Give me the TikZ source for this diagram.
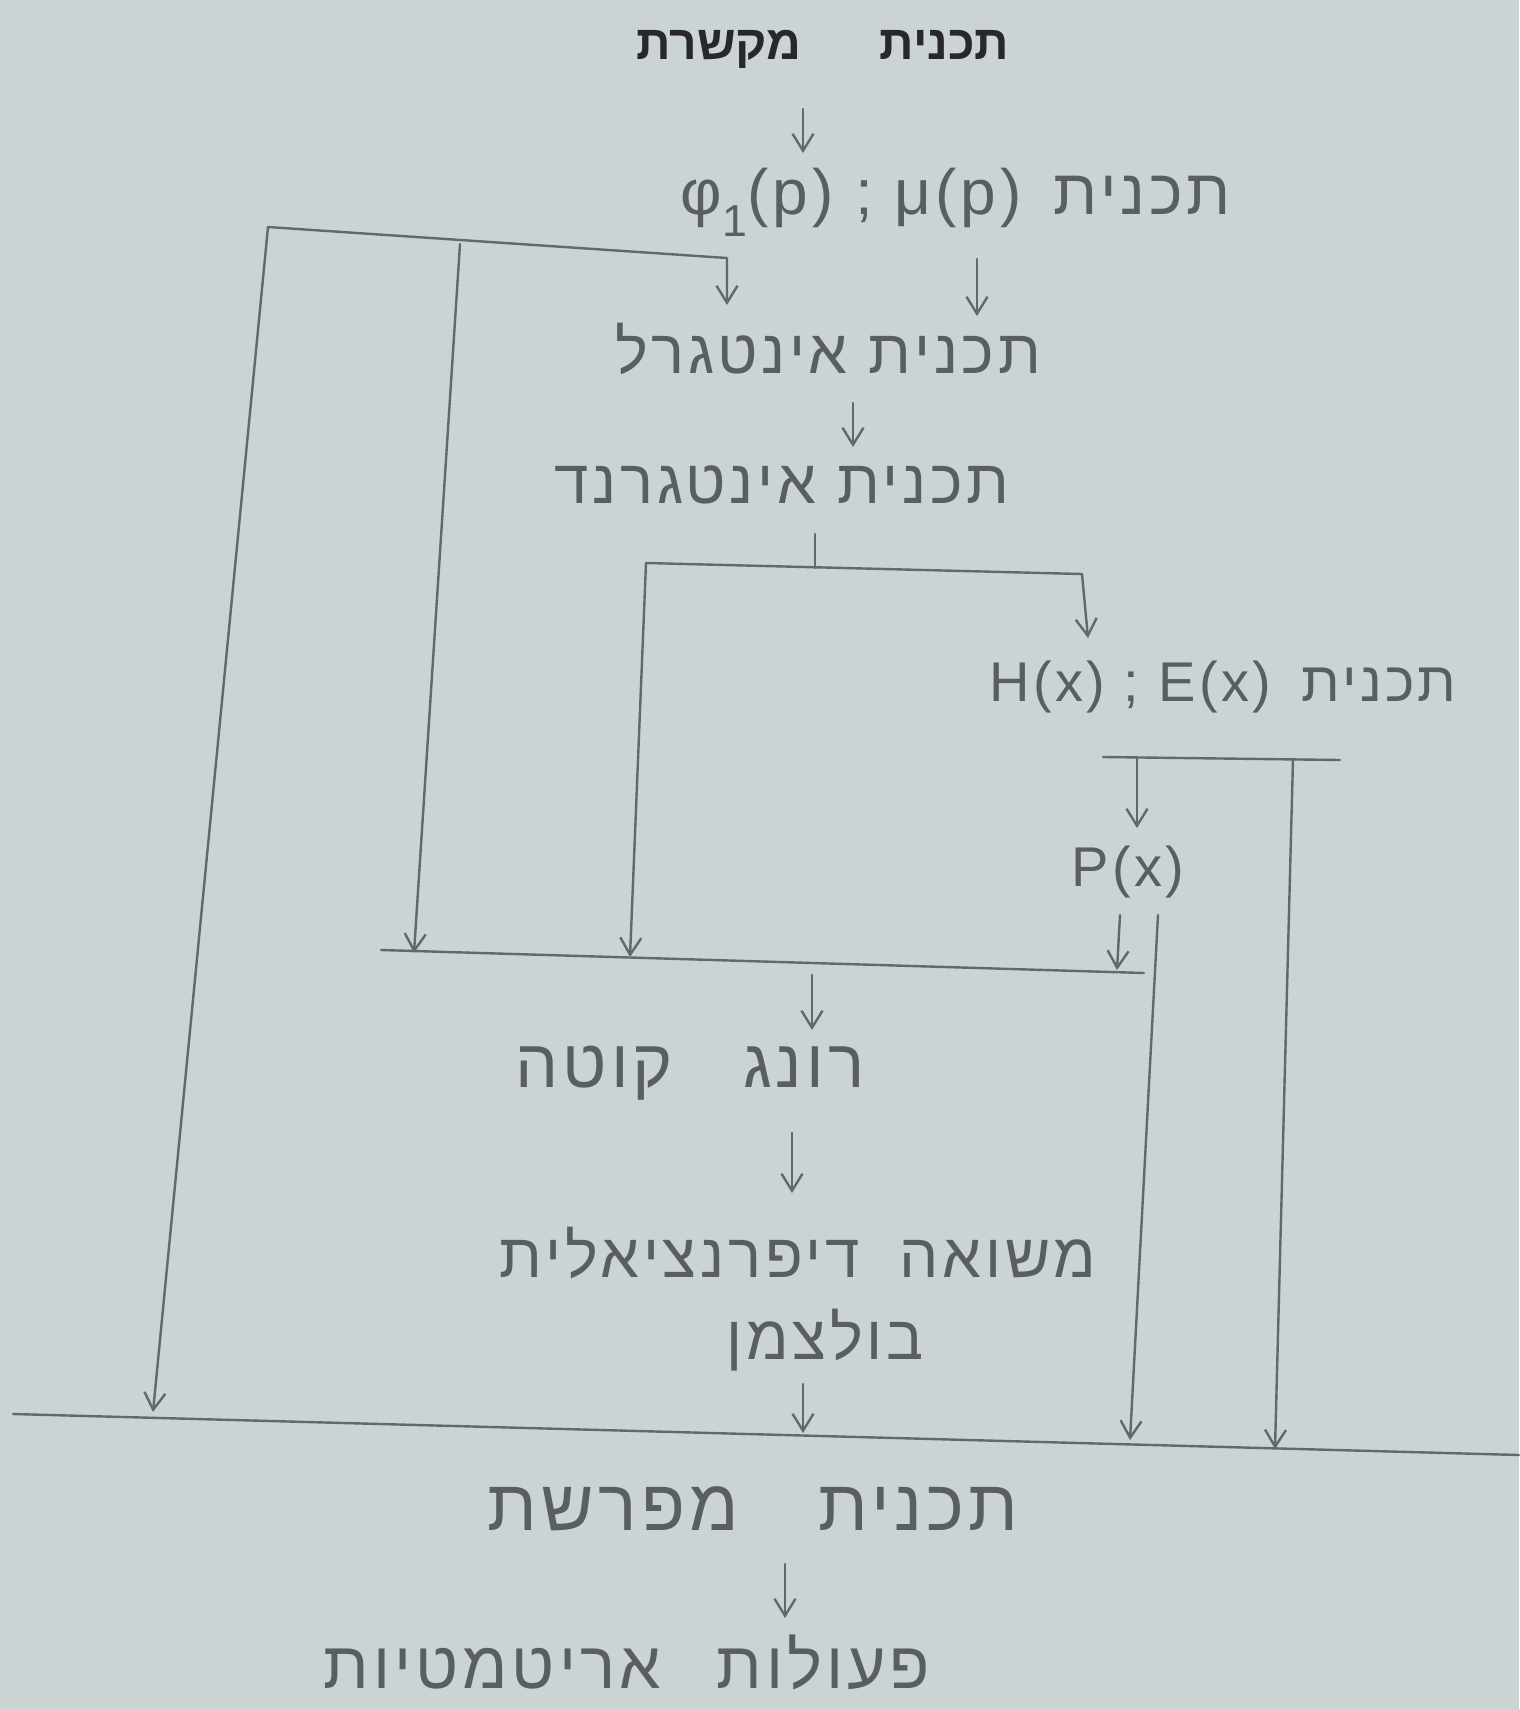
\documentclass[tikz,border=0pt]{standalone}
\usepackage{fontspec}
\setmainfont{Liberation Sans}
\newfontfamily\heb[Script=Hebrew,LetterSpace=6]{Liberation Sans}
\newfontfamily\hebprint[Script=Hebrew]{Liberation Sans}
\TeXXeTstate=1
\usetikzlibrary{arrows.meta}
\definecolor{paper}{RGB}{204,211,213}
\definecolor{pencil}{RGB}{98,104,110}
\definecolor{ink}{RGB}{40,40,44}
\tikzset{
  hw/.style={inner sep=0pt, text=pencil!90!black, font=\heb\fontsize{62}{70}\selectfont},
  hwbig/.style={inner sep=0pt, text=pencil!90!black, font=\heb\fontsize{68}{76}\selectfont},
  hwsmall/.style={inner sep=0pt, text=pencil!90!black, font=\heb\fontsize{56}{64}\selectfont},
  printed/.style={inner sep=0pt, text=ink, font=\hebprint\bfseries\fontsize{48}{54}\selectfont},
  ln/.style={draw=pencil, line width=2.4pt, line cap=round, line join=round},
  arr/.style={ln, -{Straight Barb[length=17pt,width=21pt]}},
}
\begin{document}
\begin{tikzpicture}[x=1pt,y=-1pt]
\fill[paper] (0,0) rectangle (1519,1709);
\useasboundingbox (0,0) rectangle (1519,1709);

% text nodes
\node[printed] (t0) at (823,49) {\beginR תכנית\hspace{78pt}מקשרת\endR};
\node[hw, font=\heb\fontsize{64}{72}\selectfont] (n1) at (956,202) {\beginR תכנית\hspace{32pt}\beginL φ\textsubscript{1}(p) ; μ(p)\endL\endR};
\node[hw] (n2) at (828,349) {\beginR תכנית אינטגרל\endR};
\node[hw] (n3) at (782,485) {\beginR תכנית אינטגרנד\endR};
\node[hwsmall] (n4) at (1223,687) {\beginR תכנית\hspace{30pt}\beginL H(x) ; E(x)\endL\endR};
\node[hwsmall] (n5) at (1128,872) {P(x)};
\node[hwbig] (n6) at (690,1073) {\beginR רונג\hspace{70pt}קוטה\endR};
\node[hw] (n7a) at (798,1253) {\beginR משואה\hspace{40pt}דיפרנציאלית\endR};
\node[hw] (n7b) at (825,1340) {\beginR בולצמן\endR};
\node[hwbig, font=\heb\fontsize{72}{80}\selectfont] (n8) at (753,1509) {\beginR תכנית\hspace{80pt}מפרשת\endR};
\node[hw, font=\heb\fontsize{66}{74}\selectfont] (n9) at (627,1662) {\beginR פעולות\hspace{56pt}אריטמטיות\endR};

% coordinates
\coordinate (a0) at (803,109);  \coordinate (a0e) at (803,153);
\coordinate (b1) at (268,227);  \coordinate (b2) at (727,258); \coordinate (b2e) at (727,305);
\coordinate (v2s) at (460,244); \coordinate (v2e) at (414,953);
\coordinate (v1e) at (153,1412);
\coordinate (m1) at (977,259);  \coordinate (m1e) at (977,316);
\coordinate (m2) at (853,403);  \coordinate (m2e) at (853,447);
\coordinate (s1) at (815,534);  \coordinate (s2) at (815,568);
\coordinate (h3l) at (646,563); \coordinate (h3r) at (1082,574);
\coordinate (h3le) at (630,957); \coordinate (h3re) at (1088,638);
\coordinate (h2l) at (381,950); \coordinate (h2r) at (1144,973);
\coordinate (h4l) at (1103,757); \coordinate (h4r) at (1340,760);
\coordinate (p1) at (1137,758); \coordinate (p1e) at (1137,828);
\coordinate (r1) at (1293,759); \coordinate (r1e) at (1275,1449);
\coordinate (p2) at (1120,915); \coordinate (p2e) at (1117,970);
\coordinate (q1) at (1158,915); \coordinate (q1e) at (1130,1440);
\coordinate (k1) at (812,975);  \coordinate (k1e) at (812,1030);
\coordinate (k2) at (792,1133); \coordinate (k2e) at (792,1193);
\coordinate (k3) at (803,1384); \coordinate (k3e) at (803,1433);
\coordinate (bl) at (13,1414);  \coordinate (br) at (1519,1455);
\coordinate (k4) at (785,1564); \coordinate (k4e) at (785,1618);

% connectors
\draw[arr] (a0) -- (a0e);
\draw[arr] (b1) -- (b2) -- (b2e);
\draw[arr] (b1) -- (v1e);
\draw[arr] (v2s) -- (v2e);
\draw[arr] (m1) -- (m1e);
\draw[arr] (m2) -- (m2e);
\draw[ln] (s1) -- (s2);
\draw[ln] (h3l) -- (h3r);
\draw[arr] (h3l) -- (h3le);
\draw[arr] (h3r) -- (h3re);
\draw[ln] (h2l) -- (h2r);
\draw[ln] (h4l) -- (h4r);
\draw[arr] (p1) -- (p1e);
\draw[arr] (r1) -- (r1e);
\draw[arr] (p2) -- (p2e);
\draw[arr] (q1) -- (q1e);
\draw[arr] (k1) -- (k1e);
\draw[arr] (k2) -- (k2e);
\draw[arr] (k3) -- (k3e);
\draw[ln] (bl) -- (br);
\draw[arr] (k4) -- (k4e);
\end{tikzpicture}
\end{document}
